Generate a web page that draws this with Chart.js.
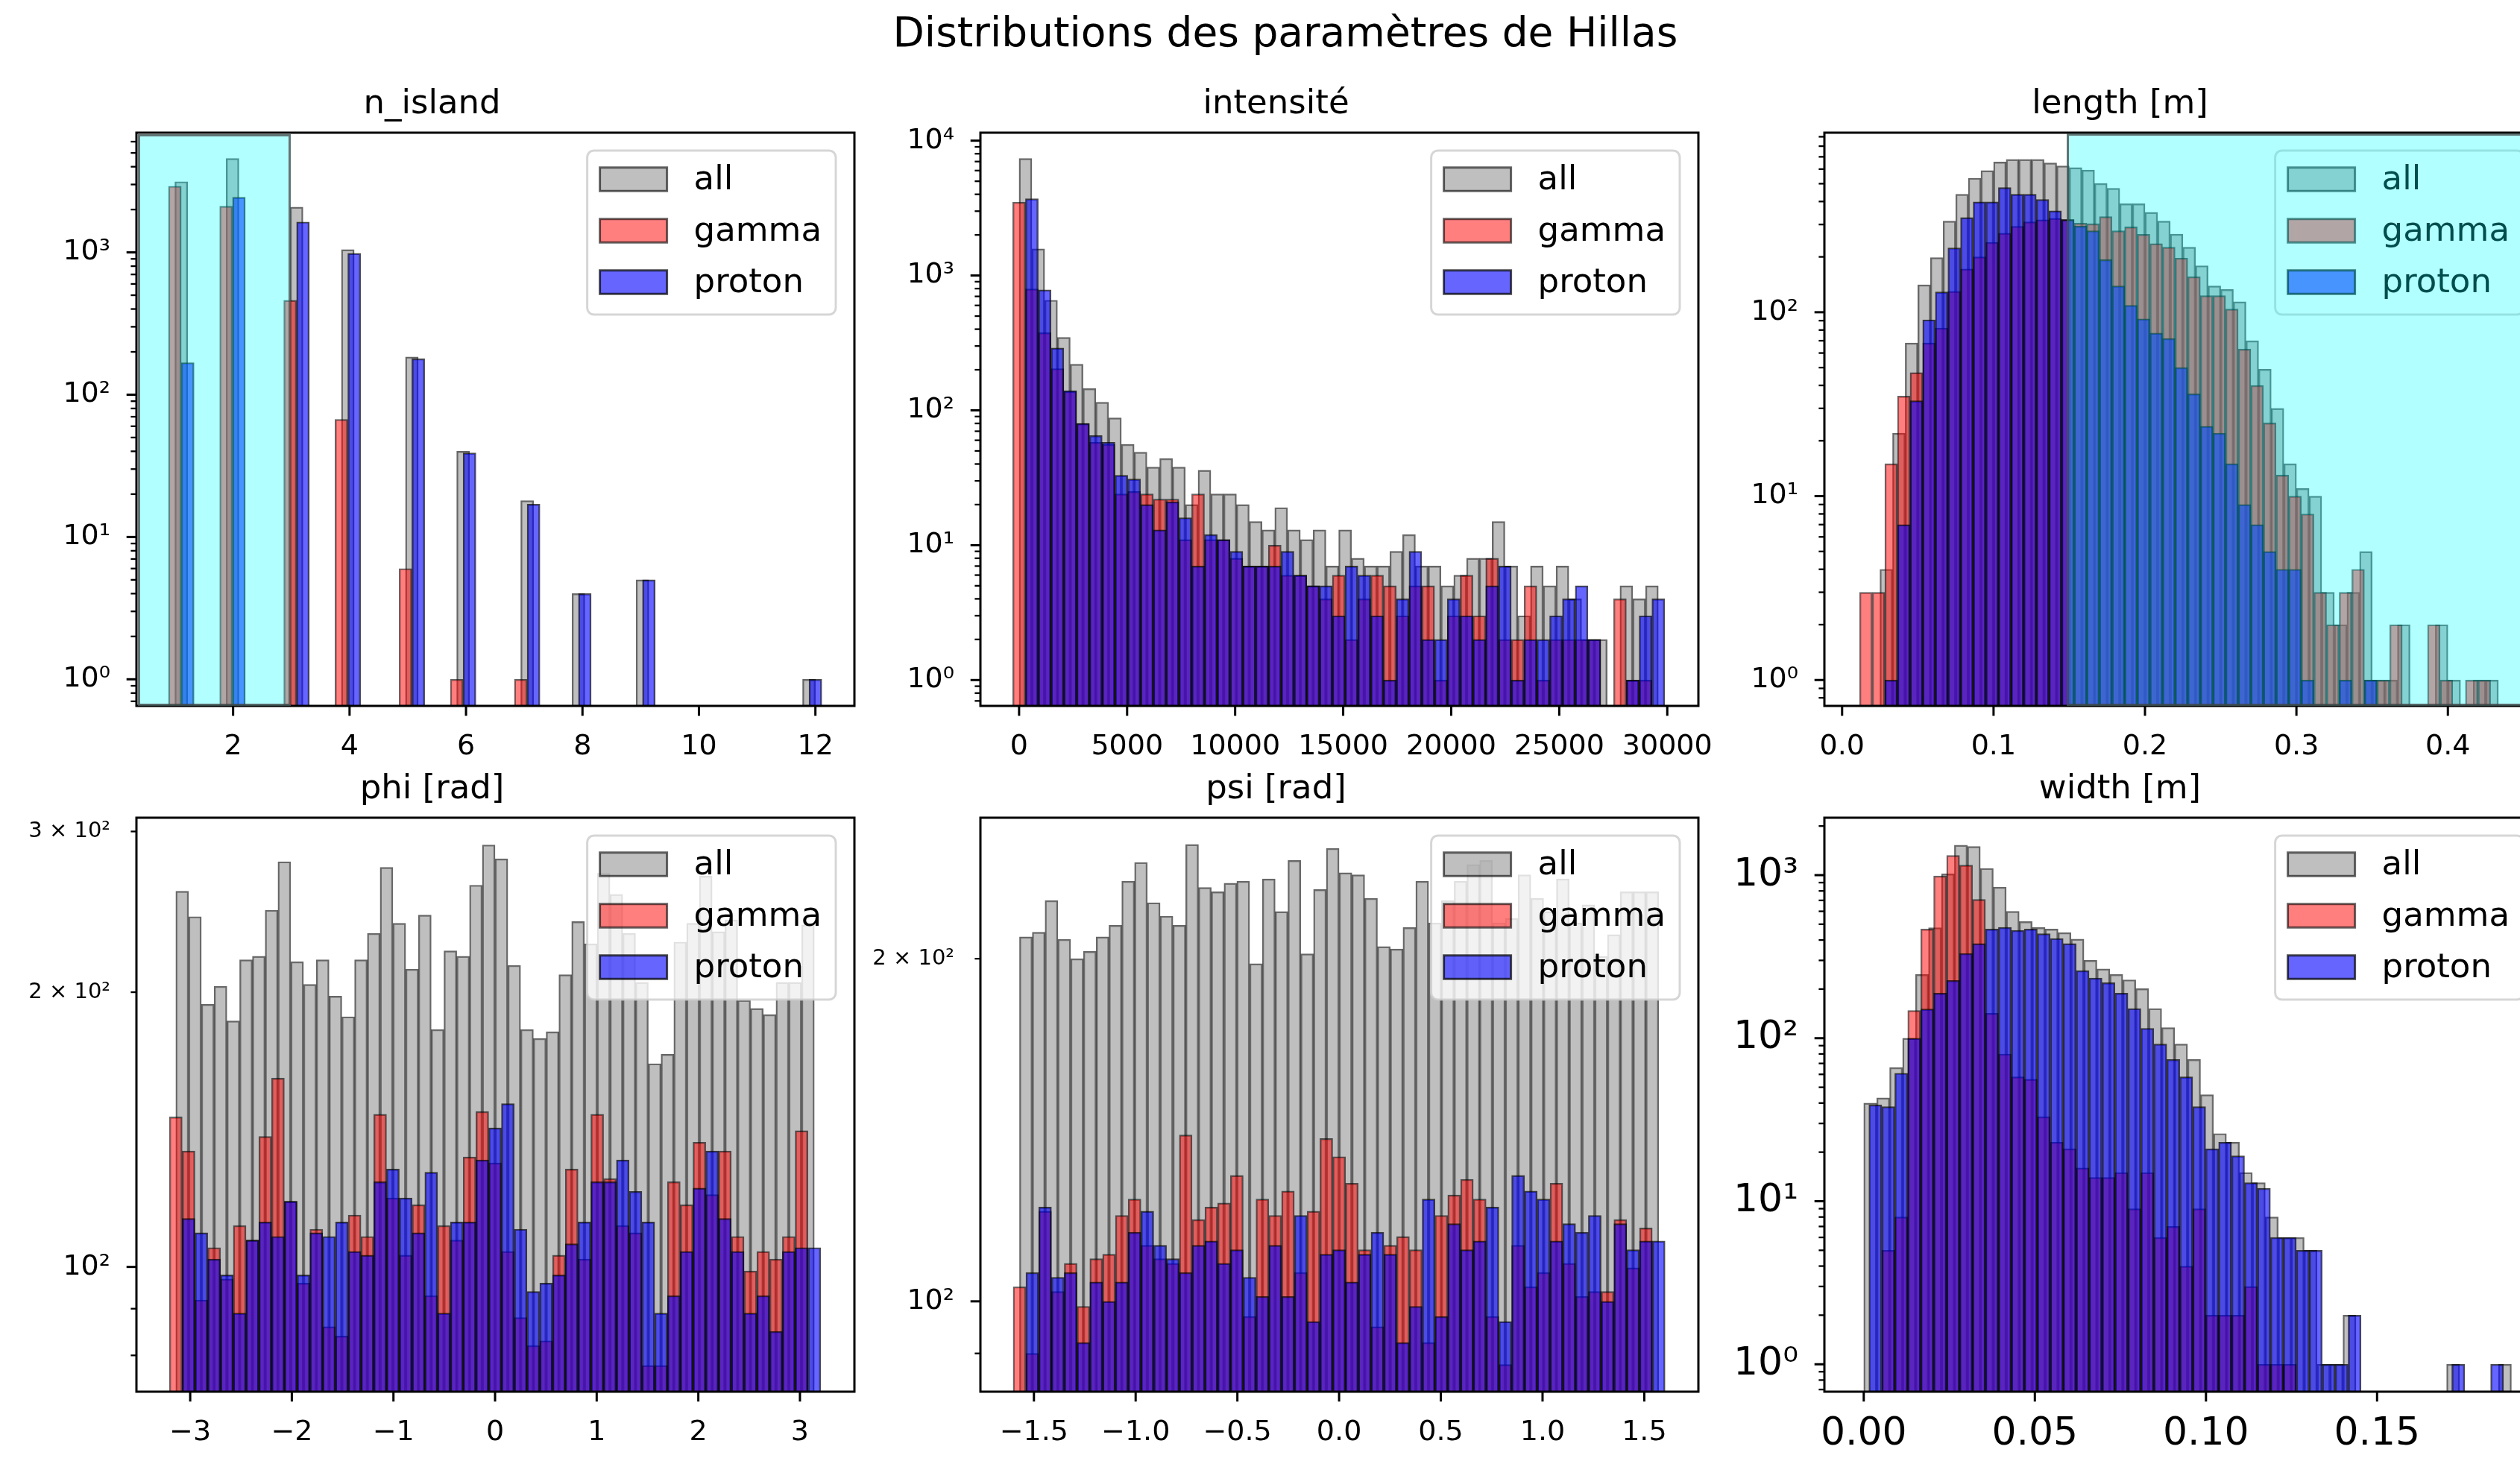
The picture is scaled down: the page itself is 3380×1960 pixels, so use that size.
<!DOCTYPE html>
<html lang="fr">
<head>
<meta charset="utf-8">
<title>Distributions des paramètres de Hillas</title>
<script src="https://cdn.jsdelivr.net/npm/chart.js@4.4.1/dist/chart.umd.min.js"></script>
<style>
  html, body { margin: 0; padding: 0; background: #fff; }
  body { position: relative; width: 3380px; height: 1960px; overflow: hidden; font-family: "DejaVu Sans", sans-serif; }
  #suptitle { position: absolute; left: 724px; width: 2000px; top: 13px; text-align: center; font-size: 55px; line-height: 60px; color: #000; }
  canvas { position: absolute; }
  .selection { position: absolute; box-sizing: border-box; background: rgba(0, 255, 255, 0.3); border: 3px solid rgba(70, 70, 70, 0.75); pointer-events: none; }
</style>
</head>
<body>
<div id="suptitle">Distributions des paramètres de Hillas</div>
<canvas id="c-island"></canvas>
<canvas id="c-intensite"></canvas>
<canvas id="c-length"></canvas>
<canvas id="c-phi"></canvas>
<canvas id="c-psi"></canvas>
<canvas id="c-width"></canvas>
<div class="selection" style="left:185px; top:180px; width:205px; height:767px"></div>
<div class="selection" style="left:2772px; top:179px; width:700px; height:768px"></div>
<script>
Chart.defaults.font.family = '"DejaVu Sans", sans-serif';
Chart.defaults.color = '#000';

// n_island : comptes par valeur entière
const islandValues = [1, 2, 3, 4, 5, 6, 7, 8, 9, 10, 11, 12];
const islandAll    = [3140, 4570, 2080, 1045, 184, 40, 18, 4, 5, 0, 0, 1];
const islandGamma  = [2920, 2110, 461, 67, 6, 1, 1, 0, 0, 0, 0, 0];
const islandProton = [168, 2440, 1637, 986, 179, 39, 17, 4, 5, 0, 0, 1];
const islandBinWidth = 0.22;
const islandStarts = { all: 1.0, gamma: 0.89, proton: 1.11 };
const islandTicks = [2, 4, 6, 8, 10, 12];

// intensité (50 bins)
const intensityAll = [7370, 1578, 656, 348, 220, 145, 115, 88, 56, 49, 38, 44, 38, 20, 36, 24, 24, 20, 15, 13,
  19, 13, 11, 13, 7, 13, 8, 7, 7, 9, 12, 7, 7, 5, 6, 8, 8, 15, 7, 3, 7, 5, 7, 4, 2, 2, 0, 5, 4, 5];
const intensityGamma = [3500, 795, 376, 204, 138, 80, 58, 56, 24, 25, 24, 22, 22, 11, 24, 11, 11, 8, 7, 7,
  10, 6, 6, 5, 4, 6, 2, 4, 6, 5, 3, 5, 5, 1, 3, 6, 3, 8, 2, 2, 5, 1, 2, 2, 2, 2, 0, 4, 1, 1];
const intensityProton = [3710, 782, 290, 140, 80, 65, 58, 33, 31, 20, 13, 21, 16, 7, 12, 11, 9, 7, 7, 7,
  9, 6, 5, 5, 3, 7, 6, 3, 1, 4, 9, 2, 2, 4, 3, 2, 5, 7, 1, 2, 2, 3, 4, 5, 2, 0, 0, 1, 3, 4];
const intensityBinWidth = 591.7;
const intensityStarts = { all: 0, gamma: -295.9, proton: 295.9 };
const intensityTicks = [0, 5000, 10000, 15000, 20000, 25000, 30000];

// length [m]
const lengthAll = [4, 22, 68, 141, 198, 313, 438, 536, 589, 656, 678, 678, 678, 648, 624, 611, 593, 502, 472, 389,
  389, 349, 313, 266, 226, 179, 139, 133, 114, 70, 49, 30, 15, 11, 10, 3, 2, 3, 5, 1, 1, 2, 0, 0, 2, 1, 0, 1, 1, 0];
const lengthGamma = [3, 3, 15, 35, 47, 68, 82, 130, 172, 200, 240, 269, 293, 310, 318, 324, 320, 305, 303, 331,
  277, 291, 265, 236, 226, 197, 156, 123, 123, 104, 63, 40, 25, 13, 10, 8, 3, 2, 3, 4, 1, 1, 2, 0, 0, 2, 1, 0, 1, 1];
const lengthProton = [1, 7, 33, 91, 129, 224, 327, 398, 398, 476, 438, 438, 410, 356, 318, 294, 277, 193, 139, 109,
  92, 77, 72, 50, 36, 24, 22, 15, 9, 7, 5, 4, 4, 1, 0, 0, 1, 0, 1, 0, 0, 0, 0, 0, 0, 0, 0, 0, 0, 0];
const lengthBinWidth = 0.008334;
const lengthStarts = { all: 0.0250, gamma: 0.01153, proton: 0.0282 };
const lengthTicks = [0, 0.1, 0.2, 0.3, 0.4];

// phi [rad]
const phiAll = [258, 242, 194, 203, 186, 217, 219, 246, 278, 216, 204, 217, 198, 188, 217, 232, 274, 238, 212, 243,
  182, 222, 219, 262, 290, 280, 214, 182, 178, 181, 209, 239, 226, 270, 256, 232, 205, 167, 171, 227,
  238, 268, 233, 240, 196, 192, 189, 205, 205, 237];
const phiGamma = [146, 134, 92, 105, 97, 111, 107, 139, 161, 118, 96, 110, 86, 84, 114, 108, 147, 119, 103, 117,
  93, 111, 107, 132, 148, 130, 104, 88, 82, 83, 103, 128, 102, 147, 125, 111, 109, 78, 78, 124,
  117, 137, 120, 134, 108, 99, 104, 102, 108, 141];
const phiProton = [113, 109, 102, 98, 89, 107, 112, 108, 118, 98, 109, 108, 112, 104, 103, 124, 128, 119, 109, 127,
  89, 112, 112, 131, 142, 151, 110, 94, 96, 98, 106, 112, 124, 124, 131, 121, 112, 89, 93, 104,
  122, 134, 113, 104, 89, 93, 85, 104, 105, 105];
const phiBinWidth = 0.12566;
const phiStarts = { all: -3.1416, gamma: -3.2044, proton: -3.0788 };
const phiTicks = [-3, -2, -1, 0, 1, 2, 3];

// psi [rad]
const psiAll = [209, 211, 225, 208, 200, 203, 209, 214, 234, 243, 224, 218, 214, 252, 231, 229, 233, 234, 198, 235,
  220, 244, 202, 230, 250, 238, 237, 226, 205, 204, 213, 234, 215, 225, 234, 242, 244, 215, 217, 237,
  226, 220, 235, 215, 223, 201, 210, 229, 229, 229];
const psiGamma = [103, 90, 120, 102, 108, 99, 109, 110, 119, 123, 112, 109, 108, 140, 118, 121, 122, 129, 97, 123,
  119, 125, 106, 120, 139, 134, 127, 111, 95, 112, 114, 111, 92, 119, 124, 128, 123, 97, 88, 112,
  103, 106, 127, 108, 101, 102, 102, 118, 107, 116];
const psiProton = [106, 121, 105, 106, 92, 104, 100, 104, 115, 120, 112, 109, 106, 112, 113, 108, 111, 105, 101, 112,
  101, 119, 96, 110, 111, 104, 110, 115, 110, 92, 99, 123, 97, 117, 111, 113, 121, 96, 129, 125,
  123, 113, 117, 115, 119, 100, 117, 111, 113, 113];
const psiBinWidth = 0.062832;
const psiStarts = { all: -1.5708, gamma: -1.6022, proton: -1.5394 };
const psiTicks = [-1.5, -1, -0.5, 0, 0.5, 1, 1.5];

// width [m]
const widthAll = [40, 43, 66, 100, 246, 476, 1019, 1528, 1500, 1100, 845, 600, 519, 477, 467, 444, 405, 300, 266, 246,
  228, 201, 152, 116, 92, 74, 45, 26, 23, 15, 13, 8, 6, 6, 5, 1, 1, 2, 0, 0, 0, 0, 0, 0, 0, 1, 0, 0, 0, 1];
const widthGamma = [0, 5, 8, 148, 467, 988, 1320, 1153, 709, 142, 80, 58, 56, 33, 23, 21, 16, 14, 14, 15,
  9, 15, 6, 7, 4, 9, 2, 2, 2, 3, 1, 1, 1, 0, 0, 0, 0, 0, 0, 0, 0, 0, 0, 0, 0, 0, 0, 0, 0, 0];
const widthProton = [39, 38, 61, 100, 151, 189, 226, 331, 380, 467, 478, 459, 467, 437, 409, 380, 260, 234, 219, 189,
  152, 115, 92, 74, 58, 38, 21, 23, 19, 13, 12, 6, 6, 5, 5, 1, 1, 2, 0, 0, 0, 0, 0, 0, 0, 1, 0, 0, 1, 0];
const widthBinWidth = 0.003785;
const widthStarts = { all: 0.0, gamma: 0.0015, proton: 0.0015 };
const widthTicks = [0, 0.05, 0.1, 0.15];

const PLOT_W = 963;
const MARGE = 170;

const STYLES = {
  all:    { label: 'all',    backgroundColor: 'rgba(128,128,128,0.5)', borderColor: 'rgba(0,0,0,0.6)', order: 3 },
  gamma:  { label: 'gamma',  backgroundColor: 'rgba(255,0,0,0.5)',     borderColor: 'rgba(0,0,0,0.6)', order: 2 },
  proton: { label: 'proton', backgroundColor: 'rgba(0,0,255,0.6)',     borderColor: 'rgba(0,0,0,0.7)', order: 1 }
};

const SUP = { '-': '⁻', '0': '⁰', '1': '¹', '2': '²', '3': '³', '4': '⁴', '5': '⁵', '6': '⁶', '7': '⁷', '8': '⁸', '9': '⁹' };
const exposant = n => String(n).split('').map(c => SUP[c]).join('');
const moins = s => s.replace('-', '\u2212');

function histogramme(start, binWidth, counts) {
  return counts.map((c, i) => ({ x: start + (i + 0.5) * binWidth, y: c > 0 ? c : null }));
}

// regroupe les valeurs entières dans les 50 bins de n_island
function histogrammeEntier(start, counts) {
  const bins = new Array(50).fill(0);
  islandValues.forEach((v, i) => {
    const k = Math.min(Math.floor((v - 1) / islandBinWidth + 1e-9), 49);
    bins[k] += counts[i];
  });
  return histogramme(start, islandBinWidth, bins);
}

// graduations log : majeures en 10^n, mineures 2..9 x 10^n
function logTicks(min, max, sousLabels) {
  const ticks = [];
  for (let e = Math.floor(Math.log10(min)); e <= Math.ceil(Math.log10(max)); e++) {
    for (let m = 1; m <= 9; m++) {
      const v = m * Math.pow(10, e);
      if (v < min || v > max) continue;
      let text = '';
      if (m === 1) text = '10' + exposant(e);
      else if (sousLabels && [2, 3, 4, 6].includes(m)) text = m + ' × 10' + exposant(e);
      ticks.push({ value: v, isMajor: m === 1, text });
    }
  }
  return ticks;
}

const cadre = {
  id: 'cadre',
  afterDatasetsDraw(chart) {
    const { ctx, chartArea: a, scales: { x, y } } = chart;
    ctx.save();
    ctx.strokeStyle = '#000';
    ctx.lineWidth = 3;
    ctx.beginPath();
    x.ticks.forEach(t => {
      const px = x.getPixelForValue(t.value);
      ctx.moveTo(px, a.bottom);
      ctx.lineTo(px, a.bottom + 13.3);
    });
    ctx.stroke();
    y.ticks.forEach(t => {
      const py = y.getPixelForValue(t.value);
      ctx.lineWidth = t.isMajor ? 3 : 2.3;
      ctx.beginPath();
      ctx.moveTo(a.left, py);
      ctx.lineTo(a.left - (t.isMajor ? 13.3 : 7.6), py);
      ctx.stroke();
    });
    ctx.lineWidth = 3;
    ctx.strokeRect(a.left, a.top, a.right - a.left, a.bottom - a.top);
    ctx.restore();
  }
};

const legende = {
  id: 'legende',
  afterDatasetsDraw(chart) {
    const { ctx, chartArea: a } = chart;
    const fs = 45;
    const items = chart.data.datasets;
    ctx.save();
    ctx.font = fs + 'px "DejaVu Sans"';
    const textW = Math.max(...items.map(d => ctx.measureText(d.label).width));
    const boxW = 0.8 * fs + 2 * fs + 0.8 * fs + textW;
    const x0 = a.right - 25 - boxW;
    const y0 = a.top + 24;
    ctx.beginPath();
    ctx.roundRect(x0, y0, boxW, 220, 9);
    ctx.fillStyle = 'rgba(255,255,255,0.8)';
    ctx.fill();
    ctx.lineWidth = 3;
    ctx.strokeStyle = 'rgba(204,204,204,0.8)';
    ctx.stroke();
    items.forEach((d, i) => {
      const cy = y0 + 38.5 + i * 69;
      const hx = x0 + 17, hw = 2 * fs, hh = 0.7 * fs;
      ctx.fillStyle = d.backgroundColor;
      ctx.fillRect(hx, cy - hh / 2, hw, hh);
      ctx.lineWidth = 3;
      ctx.strokeStyle = d.borderColor;
      ctx.strokeRect(hx, cy - hh / 2, hw, hh);
      ctx.fillStyle = '#000';
      ctx.textBaseline = 'middle';
      ctx.fillText(d.label, hx + hw + 0.8 * fs, cy + 2);
    });
    ctx.restore();
  }
};

const panels = [
  { id: 'c-island', title: 'n_island', left: 183, top: 178, h: 769,
    xMin: 0.34, xMax: 12.67, yMin: 0.65, yMax: 6937, xTicks: islandTicks, fmt: v => String(v),
    binWidth: islandBinWidth,
    series: {
      all: histogrammeEntier(islandStarts.all, islandAll),
      gamma: histogrammeEntier(islandStarts.gamma, islandGamma),
      proton: histogrammeEntier(islandStarts.proton, islandProton)
    } },
  { id: 'c-intensite', title: 'intensité', left: 1315, top: 178, h: 769,
    xMin: -1790, xMax: 31440, yMin: 0.643, yMax: 11460, xTicks: intensityTicks, fmt: v => String(v),
    binWidth: intensityBinWidth,
    series: {
      all: histogramme(intensityStarts.all, intensityBinWidth, intensityAll),
      gamma: histogramme(intensityStarts.gamma, intensityBinWidth, intensityGamma),
      proton: histogramme(intensityStarts.proton, intensityBinWidth, intensityProton)
    } },
  { id: 'c-length', title: 'length [m]', left: 2447, top: 178, h: 769,
    xMin: -0.0117, xMax: 0.4624, yMin: 0.723, yMax: 947, xTicks: lengthTicks, fmt: v => v.toFixed(1),
    binWidth: lengthBinWidth,
    series: {
      all: histogramme(lengthStarts.all, lengthBinWidth, lengthAll),
      gamma: histogramme(lengthStarts.gamma, lengthBinWidth, lengthGamma),
      proton: histogramme(lengthStarts.proton, lengthBinWidth, lengthProton)
    } },
  { id: 'c-phi', title: 'phi [rad]', left: 183, top: 1097, h: 770,
    xMin: -3.529, xMax: 3.536, yMin: 73.0, yMax: 310.6, xTicks: phiTicks, fmt: v => moins(String(v)),
    sousLabels: true, binWidth: phiBinWidth,
    series: {
      all: histogramme(phiStarts.all, phiBinWidth, phiAll),
      gamma: histogramme(phiStarts.gamma, phiBinWidth, phiGamma),
      proton: histogramme(phiStarts.proton, phiBinWidth, phiProton)
    } },
  { id: 'c-psi', title: 'psi [rad]', left: 1315, top: 1097, h: 770,
    xMin: -1.763, xMax: 1.766, yMin: 83.3, yMax: 266, xTicks: psiTicks, fmt: v => moins(v.toFixed(1)),
    sousLabels: true, binWidth: psiBinWidth,
    series: {
      all: histogramme(psiStarts.all, psiBinWidth, psiAll),
      gamma: histogramme(psiStarts.gamma, psiBinWidth, psiGamma),
      proton: histogramme(psiStarts.proton, psiBinWidth, psiProton)
    } },
  { id: 'c-width', title: 'width [m]', left: 2447, top: 1097, h: 770,
    xMin: -0.0115, xMax: 0.1983, yMin: 0.679, yMax: 2250, xTicks: widthTicks, fmt: v => v.toFixed(2),
    tickFont: 52, xPad: 18, binWidth: widthBinWidth,
    series: {
      all: histogramme(widthStarts.all, widthBinWidth, widthAll),
      gamma: histogramme(widthStarts.gamma, widthBinWidth, widthGamma),
      proton: histogramme(widthStarts.proton, widthBinWidth, widthProton)
    } }
];

panels.forEach(p => {
  const canvas = document.getElementById(p.id);
  canvas.width = MARGE + PLOT_W + MARGE;
  canvas.height = p.h + 160;
  canvas.style.left = (p.left - MARGE) + 'px';
  canvas.style.top = (p.top - 70) + 'px';

  const epaisseur = p.binWidth * PLOT_W / (p.xMax - p.xMin);
  const tickFont = p.tickFont || 38;

  const datasets = ['all', 'gamma', 'proton'].map(k => ({
    ...STYLES[k],
    data: p.series[k],
    barThickness: epaisseur,
    grouped: false,
    borderWidth: 1.8,
    borderSkipped: 'start'
  }));

  new Chart(canvas, {
    type: 'bar',
    data: { datasets },
    plugins: [cadre, legende],
    options: {
      responsive: false,
      animation: false,
      devicePixelRatio: 1,
      events: [],
      layout: { padding: { left: 0, right: MARGE, top: 0, bottom: 0 }, autoPadding: false },
      plugins: {
        legend: { display: false },
        tooltip: { enabled: false },
        title: {
          display: true, text: p.title, color: '#000',
          font: { size: 45, weight: 'normal' },
          padding: { top: 5, bottom: 11 }
        }
      },
      scales: {
        x: {
          type: 'linear', min: p.xMin, max: p.xMax, offset: false, bounds: 'data',
          grid: { display: false }, border: { display: false },
          afterFit: s => { s.height = 90; },
          afterBuildTicks: s => { s.ticks = p.xTicks.map(v => ({ value: v })); },
          ticks: {
            autoSkip: false, maxRotation: 0, minRotation: 0, padding: p.xPad || 24, color: '#000',
            font: { size: tickFont },
            callback: v => p.fmt(v)
          }
        },
        y: {
          type: 'logarithmic', min: p.yMin, max: p.yMax, bounds: 'data',
          grid: { display: false }, border: { display: false },
          afterFit: s => { s.width = MARGE; },
          afterBuildTicks: s => { s.ticks = logTicks(p.yMin, p.yMax, p.sousLabels); },
          ticks: {
            autoSkip: false, padding: 27, color: '#000',
            font: c => ({ size: (c.tick && c.tick.isMajor === false) ? 29 : tickFont }),
            callback: (v, i, ticks) => ticks[i].text
          }
        }
      }
    }
  });
});
</script>
</body>
</html>
